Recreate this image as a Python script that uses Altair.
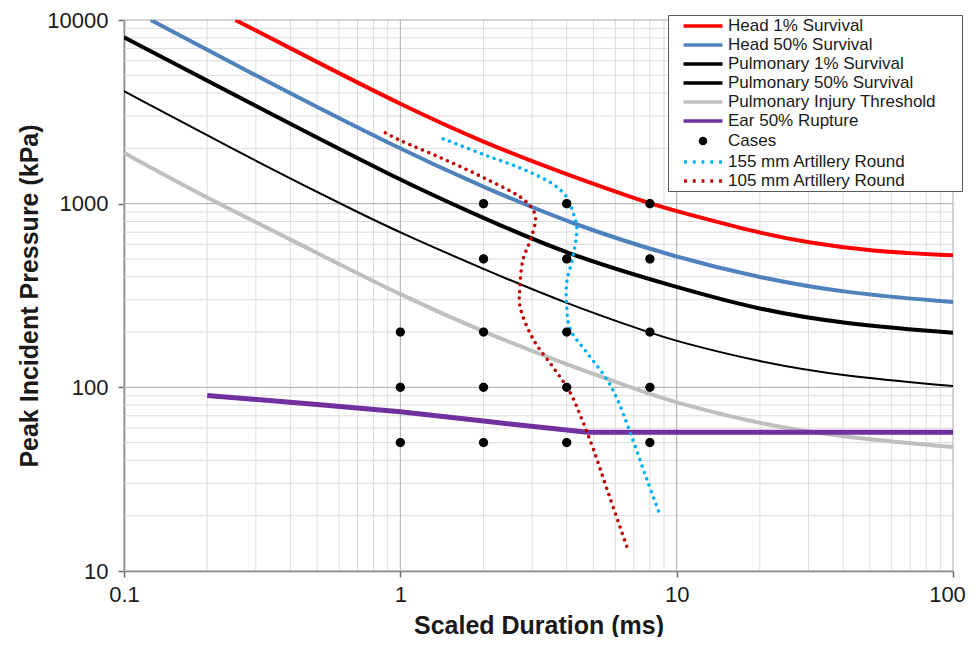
import altair as alt
import pandas as pd

# ---------------- data ----------------
SERIES = [
    "Head 1% Survival",
    "Head 50% Survival",
    "Pulmonary 1% Survival",
    "Pulmonary 50% Survival",
    "Pulmonary Injury Threshold",
    "Ear 50% Rupture",
    "Cases",
    "155 mm Artillery Round",
    "105 mm Artillery Round",
]
COLORS = ["#ff0000", "#4f81bd", "#000000", "#000000", "#bfbfbf",
          "#7030a0", "#000000", "#00b0f0", "#c00000"]

head1_x = [0.253, 0.5, 1, 2, 4, 8, 10, 20, 30, 50, 100]
head1_y = [10000, 5900, 3470, 2150, 1440, 1000, 910, 690, 613, 551, 523]

head50_x = [0.125, 0.3, 1, 2, 4.2, 10, 20, 40, 100]
head50_y = [10000, 4970, 1970, 1230, 771, 508, 395, 327, 291]

pulm1_x = [0.1, 0.3, 1, 2, 4, 10, 20, 40, 100]
pulm1_y = [8060, 3400, 1335, 835, 530, 350, 264, 222, 198]

pulm50_x = [0.1, 0.3, 0.72, 1, 2, 4, 8, 10, 20, 40, 100]
pulm50_y = [4096, 1700, 880, 695, 440, 285, 198, 178, 137, 115, 101.6]

injury_x = [0.1, 0.2, 0.5, 1, 2, 4, 8, 10, 20, 40, 100]
injury_y = [1892, 1070, 540, 318, 200, 133, 92, 82.4, 63, 53.5, 47.3]

ear_x = [0.2, 0.5, 1, 2, 4.75, 100]
ear_y = [90.4, 80.7, 73.7, 65.5, 57, 57]

cases_x = [1, 1, 1, 2, 2, 2, 2, 2, 4, 4, 4, 4, 4, 8, 8, 8, 8, 8]
cases_y = [200, 100, 50, 1000, 500, 200, 100, 50, 1000, 500, 200, 100, 50,
           1000, 500, 200, 100, 50]

r155_x = [1.43, 2.0, 2.79, 3.58, 4.0, 4.22, 4.35, 4.22, 4.0, 4.0, 4.12, 4.74,
          5.6, 6.1, 6.76, 7.8, 8.6]
r155_y = [2255, 1853, 1537, 1273, 1085, 892, 740, 518, 371, 277, 207, 154,
          110, 86, 57.8, 31.6, 21.2]

r105_x = [0.883, 1.0, 1.40, 2.0, 2.84, 3.08, 2.96, 2.78, 2.71, 2.71, 3.03,
          3.58, 4.12, 4.54, 5.0, 5.6, 6.6]
r105_y = [2432, 2208, 1778, 1384, 1032, 855, 638, 497, 355, 277, 182,
          128, 93.5, 66.9, 45.9, 27.8, 13.6]

x_ticks = [0.1, 1, 10, 100]
y_ticks = [10, 100, 1000, 10000]
x_minor = [0.2, 0.3, 0.4, 0.5, 0.6, 0.7, 0.8, 0.9,
           2, 3, 4, 5, 6, 7, 8, 9,
           20, 30, 40, 50, 60, 70, 80, 90]
y_minor = [20, 30, 40, 50, 60, 70, 80, 90,
           200, 300, 400, 500, 600, 700, 800, 900,
           2000, 3000, 4000, 5000, 6000, 7000, 8000, 9000]

solid_widths = [4, 4, 4, 2, 4]

# ---------------- tables ----------------
solid_rows = []
for name, xs_, ys_, w in zip(SERIES[:5],
                             [head1_x, head50_x, pulm1_x, pulm50_x, injury_x],
                             [head1_y, head50_y, pulm1_y, pulm50_y, injury_y],
                             solid_widths):
    for i, (a, b) in enumerate(zip(xs_, ys_)):
        solid_rows.append({"series": name, "x": a, "y": b, "w": w, "i": i})
solid_df = pd.DataFrame(solid_rows)

ear_df = pd.DataFrame({"series": SERIES[5], "x": ear_x, "y": ear_y,
                       "i": list(range(len(ear_x)))})

dot_rows = []
for name, xs_, ys_ in zip(SERIES[7:], [r155_x, r105_x], [r155_y, r105_y]):
    for i, (a, b) in enumerate(zip(xs_, ys_)):
        dot_rows.append({"series": name, "x": a, "y": b, "i": i})
dot_df = pd.DataFrame(dot_rows)

cases_df = pd.DataFrame({"series": "Cases", "x": cases_x, "y": cases_y})

# ---------------- legend symbol shapes ----------------
LINE = "M-2.786,0L2.786,0"
CIRC = "M-0.364,0a0.364,0.364 0 1,0 0.728,0a0.364,0.364 0 1,0 -0.728,0Z"
DOTS = "M-2.7,0L-2.3,0M-1.45,0L-1.05,0M-0.2,0L0.2,0M1.05,0L1.45,0M2.3,0L2.7,0"
SHAPES = [LINE, LINE, LINE, LINE, LINE, LINE, CIRC, DOTS, DOTS]

# ---------------- scales / guides ----------------
xscale = alt.Scale(type="log", domain=[0.1, 100], nice=False)
yscale = alt.Scale(type="log", domain=[10, 10000], nice=False)
color_scale = alt.Scale(domain=SERIES, range=COLORS)
shape_scale = alt.Scale(domain=SERIES, range=SHAPES)
# a blank (braille) pad after each label keeps a right margin inside the legend box
leg = alt.Legend(orient="none", legendX=544, legendY=-5, title=None,
                 labelExpr="datum.label + '\u2800\u2800'")

x_axis = alt.Axis(values=x_ticks, format="~g", grid=False,
                  title="Scaled Duration (ms)", titleX=414.5, titleY=62,
                  titleAlign="center", titleBaseline="alphabetic", labelFlush=False,
                  labelOffset={"condition": {"test": "datum.value >= 100", "value": -6},
                               "value": 0})
y_axis = alt.Axis(values=y_ticks, format="~g", grid=False,
                  title="Peak Incident Pressure (kPa)", titleAngle=270,
                  titleX=-95, titleY=275.5, titleAlign="center",
                  titleBaseline="middle", labelFlush=False)

X = lambda f: alt.X(f, scale=xscale, axis=x_axis)
Y = lambda f: alt.Y(f, scale=yscale, axis=y_axis)

# ---------------- layers ----------------
vminor = alt.Chart(pd.DataFrame({"v": x_minor})).mark_rule(
    color="#dcdcdc", strokeWidth=1).encode(x=X("v:Q"))
hminor = alt.Chart(pd.DataFrame({"v": y_minor})).mark_rule(
    color="#dcdcdc", strokeWidth=1).encode(y=Y("v:Q"))
vmajor = alt.Chart(pd.DataFrame({"v": x_ticks})).mark_rule(
    color="#ababab", strokeWidth=1).encode(x=X("v:Q"))
hmajor = alt.Chart(pd.DataFrame({"v": y_ticks})).mark_rule(
    color="#ababab", strokeWidth=1).encode(y=Y("v:Q"))

solid = alt.Chart(solid_df).mark_line(interpolate="basis", clip=True).encode(
    x=X("x:Q"), y=Y("y:Q"),
    color=alt.Color("series:N", scale=color_scale, legend=leg),
    strokeWidth=alt.StrokeWidth("w:Q", scale=None),
    order=alt.Order("i:Q"),
)

ear = alt.Chart(ear_df).mark_line(interpolate="linear", clip=True,
                                  strokeWidth=5).encode(
    x=X("x:Q"), y=Y("y:Q"),
    color=alt.Color("series:N", scale=color_scale, legend=leg),
    order=alt.Order("i:Q"),
)

dotted = alt.Chart(dot_df).mark_line(interpolate="catmull-rom", clip=True,
                                     strokeCap="round", strokeWidth=3.5,
                                     strokeDash=[0.01, 6.8]).encode(
    x=X("x:Q"), y=Y("y:Q"),
    color=alt.Color("series:N", scale=color_scale, legend=leg),
    order=alt.Order("i:Q"),
)

points = alt.Chart(cases_df).mark_point(filled=True, opacity=1, size=650).encode(
    x=X("x:Q"), y=Y("y:Q"),
    color=alt.Color("series:N", scale=color_scale, legend=leg),
    shape=alt.Shape("series:N", scale=shape_scale, legend=leg),
)

chart = alt.layer(vminor, hminor, vmajor, hmajor, solid, ear, dotted, points).properties(
    width=829, height=551,
    autosize=alt.AutoSizeParams(type="none"),
    padding={"left": 116, "top": 12, "right": 13, "bottom": 66},
).configure_view(strokeOpacity=0).configure_axis(
    domainColor="#6d6d6d", domainWidth=1.5, tickColor="#6d6d6d", tickWidth=1.5,
    tickSize=6, labelFont="Liberation Sans", labelFontSize=22, labelColor="#1a1a1a",
    titleFont="Liberation Sans", titleFontSize=25,
    titleFontWeight="bold", titleColor="#1a1a1a",
).configure_axisX(labelPadding=7).configure_axisY(labelPadding=10).configure_legend(
    labelFont="Liberation Sans", labelFontSize=17, labelColor="#1a1a1a", labelLimit=400,
    symbolSize=196, symbolStrokeWidth=3.5, symbolOffset=24, labelOffset=16,
    rowPadding=2, padding=2, fillColor="white", strokeColor="#595959",
    symbolOpacity=1,
)

chart.save("out.html", embed_options={"renderer": "svg", "actions": False})
